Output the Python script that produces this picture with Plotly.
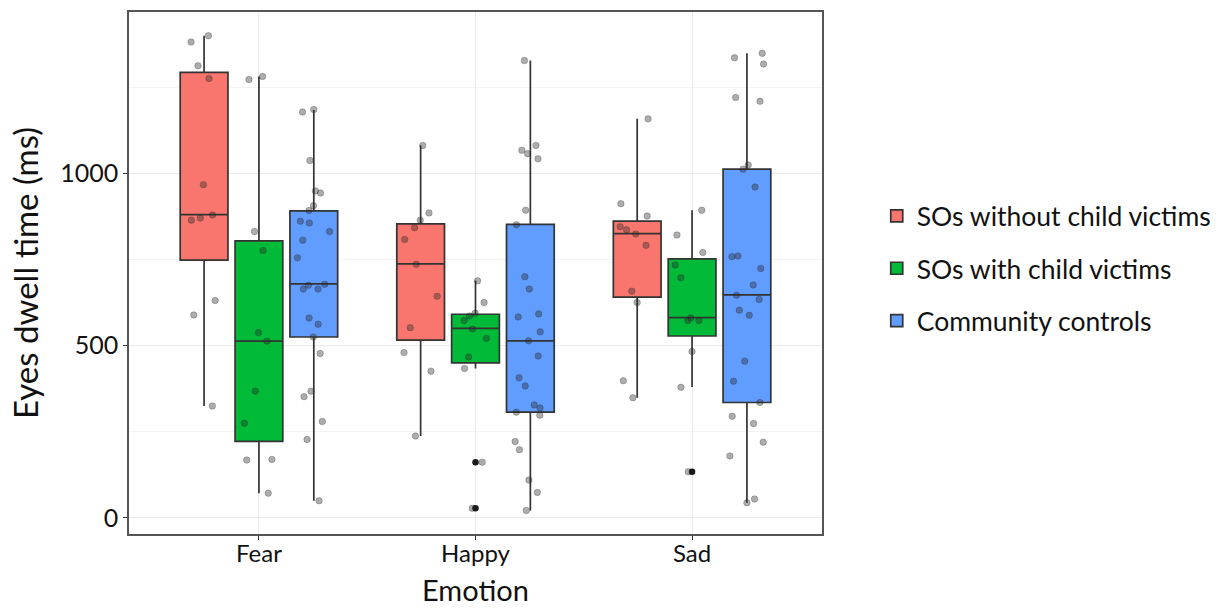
import plotly.graph_objects as go

emotions = ["Fear", "Happy", "Sad"]
groups = ["SOs without child victims", "SOs with child victims", "Community controls"]
colors = ["#F8766D", "#00BA38", "#619CFF"]

# box statistics per group (Fear, Happy, Sad)
q1 = {
    "SOs without child victims": [748, 516, 641],
    "SOs with child victims": [222, 450, 528],
    "Community controls": [525, 307, 335],
}
median = {
    "SOs without child victims": [880, 737, 825],
    "SOs with child victims": [513, 550, 581],
    "Community controls": [679, 514, 647],
}
q3 = {
    "SOs without child victims": [1293, 853, 861],
    "SOs with child victims": [804, 591, 752],
    "Community controls": [891, 852, 1012],
}
lower = {
    "SOs without child victims": [325, 238, 349],
    "SOs with child victims": [72, 434, 380],
    "Community controls": [50, 22, 44],
}
upper = {
    "SOs without child victims": [1399, 1081, 1158],
    "SOs with child victims": [1281, 689, 893],
    "Community controls": [1184, 1327, 1348],
}

# individual observations (jittered points)
points_without = {
    "Fear": [1399, 1381, 1312, 1275, 967, 879, 864, 870, 631, 589, 325],
    "Happy": [1081, 885, 864, 842, 808, 736, 643, 552, 480, 426, 238],
    "Sad": [1158, 912, 876, 845, 836, 824, 791, 658, 625, 398, 349],
}
points_with = {
    "Fear": [1272, 1281, 831, 776, 538, 513, 368, 275, 170, 168, 72],
    "Happy": [688, 625, 594, 586, 573, 548, 521, 467, 434, 162, 28],
    "Sad": [893, 821, 770, 734, 697, 580, 573, 573, 483, 379, 134],
}
points_controls = {
    "Fear": [1185, 1178, 1037, 949, 943, 906, 892, 861, 856, 831, 806, 755, 678,
             675, 664, 664, 580, 562, 525, 477, 368, 352, 280, 228, 50],
    "Happy": [1327, 1081, 1067, 1057, 1042, 893, 851, 700, 664, 592, 583, 540, 514,
              470, 407, 383, 328, 319, 307, 298, 222, 198, 110, 74, 22],
    "Sad": [1348, 1335, 1317, 1220, 1209, 1024, 1012, 960, 760, 758, 724, 676, 646,
            634, 603, 588, 455, 397, 335, 295, 274, 220, 180, 55, 44],
}
points = {
    "SOs without child victims": points_without,
    "SOs with child victims": points_with,
    "Community controls": points_controls,
}

# boxplot outliers (SOs with child victims)
outlier_emotion = ["Happy", "Happy", "Sad"]
outlier_value = [162, 28, 134]

x_title = "Emotion"
y_title = "Eyes dwell time (ms)"

FONT = "Lato"
fig = go.Figure()

for i, g in enumerate(groups):
    fig.add_trace(go.Box(
        name=g, x=emotions,
        q1=q1[g], median=median[g], q3=q3[g],
        lowerfence=lower[g], upperfence=upper[g],
        fillcolor=colors[i], line=dict(color="#333333", width=1.7),
        whiskerwidth=0, boxpoints=False, offsetgroup=f"g{i}",
        legendgroup=g, showlegend=True,
    ))

for i, g in enumerate(groups):
    xs, ys = [], []
    for e in emotions:
        xs += [e] * len(points[g][e])
        ys += points[g][e]
    fig.add_trace(go.Box(
        name=g + " pts", x=xs, y=ys, offsetgroup=f"g{i}",
        boxpoints="all", jitter=0.8, pointpos=0,
        fillcolor="rgba(0,0,0,0)", line=dict(color="rgba(0,0,0,0)", width=0),
        marker=dict(color="rgba(40,40,40,0.38)", size=6.5,
                    line=dict(color="rgba(40,40,40,0.45)", width=0.6)),
        showlegend=False, hoverinfo="y",
    ))

fig.add_trace(go.Box(
    name="outliers", x=outlier_emotion, y=outlier_value, offsetgroup="g1",
    boxpoints="all", jitter=0, pointpos=0,
    fillcolor="rgba(0,0,0,0)", line=dict(color="rgba(0,0,0,0)", width=0),
    marker=dict(color="#1a1a1a", size=6.5),
    showlegend=False, hoverinfo="y",
))

fig.add_annotation(
    text=x_title, xref="paper", yref="paper", x=0.5, y=0,
    xanchor="center", yanchor="middle", yshift=-55, showarrow=False,
    font=dict(family=FONT, size=29, color="#111111"),
)

fig.update_layout(
    width=1228, height=609,
    margin=dict(l=129, r=404, t=12, b=75),
    paper_bgcolor="white", plot_bgcolor="white",
    boxmode="group", boxgap=0.24, boxgroupgap=0.13,
    font=dict(family=FONT, color="#111111"),
    legend=dict(
        x=1.079, y=0.655, xanchor="left", yanchor="top",
        font=dict(family=FONT, size=26.5, color="#111111"),
        tracegroupgap=15, traceorder="grouped",
        bgcolor="white",
    ),
    xaxis=dict(
        type="category", categoryorder="array", categoryarray=emotions,
        range=[-0.6, 2.6], automargin=False,
        tickfont=dict(family=FONT, size=24), ticklabelstandoff=-7,
        showgrid=True, gridcolor="#EBEBEB", gridwidth=1,
        ticks="outside", ticklen=4, tickcolor="#333333",
        showline=True, linecolor="#555555", linewidth=1.5, mirror=True,
        zeroline=False,
    ),
    yaxis=dict(
        range=[-46.5, 1468], automargin=False,
        tickvals=[0, 500, 1000],
        title=dict(text=y_title, font=dict(family=FONT, size=33), standoff=12),
        tickfont=dict(family=FONT, size=25),
        showgrid=True, gridcolor="#EBEBEB", gridwidth=1,
        minor=dict(tickvals=[250, 750, 1250], showgrid=True, gridcolor="#F3F3F3", gridwidth=1),
        ticks="outside", ticklen=4, tickcolor="#333333",
        showline=True, linecolor="#555555", linewidth=1.5, mirror=True,
        zeroline=False,
    ),
)

fig.write_html("out.html", config={"displayModeBar": False},
               post_script="document.body.style.margin='0';")
